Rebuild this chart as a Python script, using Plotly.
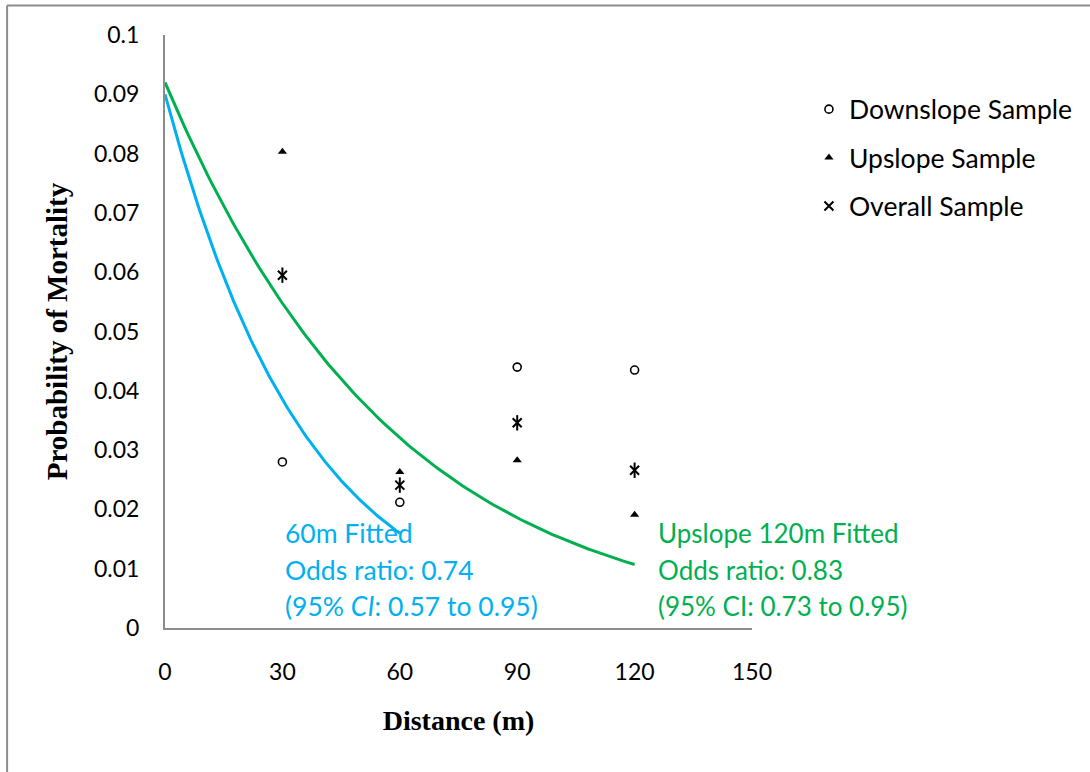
import numpy as np
import plotly.graph_objects as go

# Sample probabilities of mortality by distance from the edge
distance = [30, 60, 90, 120]
downslope = [0.0280, 0.0212, 0.0440, 0.0435]
upslope = [0.0803, 0.0263, 0.0283, 0.0191]
overall = [0.0595, 0.0241, 0.0346, 0.0266]

# Fitted logistic models: probability at 0 m and odds ratio per 10 m
fit60_p0, fit60_or, fit60_max = 0.090, 0.74, 60
fitup_p0, fitup_or, fitup_max = 0.092, 0.83, 120

x_ticks = [0, 30, 60, 90, 120, 150]
y_ticks = [0, 0.01, 0.02, 0.03, 0.04, 0.05, 0.06, 0.07, 0.08, 0.09, 0.1]
y_ticktext = ["0", "0.01", "0.02", "0.03", "0.04", "0.05", "0.06", "0.07", "0.08", "0.09", "0.1"]

BLUE = "#00B0F0"
GREEN = "#00B050"
SANS = "Lato"
SERIF = "Liberation Serif"


def fitted_curve(p0, odds_ratio, xmax):
    d = np.linspace(0, xmax, 121)
    odds = p0 / (1 - p0) * odds_ratio ** (d / 10.0)
    return d, odds / (1 + odds)


fig = go.Figure()

d60, p60 = fitted_curve(fit60_p0, fit60_or, fit60_max)
dup, pup = fitted_curve(fitup_p0, fitup_or, fitup_max)
fig.add_trace(go.Scatter(x=d60, y=p60, mode="lines", line=dict(color=BLUE, width=3),
                         showlegend=False, hoverinfo="skip"))
fig.add_trace(go.Scatter(x=dup, y=pup, mode="lines", line=dict(color=GREEN, width=3),
                         showlegend=False, hoverinfo="skip"))

fig.add_trace(go.Scatter(
    x=distance, y=downslope, mode="markers", name="Downslope Sample", legendgroup="down",
    marker=dict(symbol="circle-open", size=8, color="black", line=dict(width=1.6, color="black"))))
fig.add_trace(go.Scatter(
    x=distance, y=upslope, mode="markers", name="Upslope Sample", legendgroup="up",
    marker=dict(symbol="triangle-up", size=8, color="black")))
fig.add_trace(go.Scatter(
    x=distance, y=overall, mode="markers", name="Overall Sample", legendgroup="all",
    marker=dict(symbol="x-thin-open", size=9, color="black", line=dict(width=2, color="black"))))
fig.add_trace(go.Scatter(
    x=distance, y=overall, mode="markers", name="Overall Sample", legendgroup="all",
    showlegend=False,
    marker=dict(symbol="line-ns-open", size=11, color="black", line=dict(width=2, color="black"))))

# Fitted-model labels
label_rows = [0.01603, 0.00983, 0.00373]
blue_lines = ["60m Fitted", "Odds ratio: 0.74", "(95% <i>CI</i>: 0.57 to 0.95)"]
green_lines = ["Upslope 120m Fitted", "Odds ratio: 0.83", "(95% CI: 0.73 to 0.95)"]
for yv, txt in zip(label_rows, blue_lines):
    fig.add_annotation(x=30.2, y=yv, xref="x", yref="y", text=txt, showarrow=False,
                       xanchor="left", yanchor="middle", font=dict(family=SANS, size=26.5, color=BLUE))
for yv, txt in zip(label_rows, green_lines):
    fig.add_annotation(x=125.5, y=yv, xref="x", yref="y", text=txt, showarrow=False,
                       xanchor="left", yanchor="middle", font=dict(family=SANS, size=26, color=GREEN))

# Outer chart frame (left and top edges)
fig.add_shape(type="line", xref="paper", yref="paper", x0=-0.269, x1=-0.269, y0=1.0497, y1=-0.26,
              line=dict(color="#8c8c8c", width=2))
fig.add_shape(type="line", xref="paper", yref="paper", x0=-0.269, x1=1.6, y0=1.0497, y1=1.0497,
              line=dict(color="#8c8c8c", width=2))

fig.update_layout(
    width=1090, height=772,
    margin=dict(l=165, r=334, t=35, b=144),
    paper_bgcolor="white", plot_bgcolor="white",
    font=dict(family=SANS, size=23, color="black"),
    legend=dict(x=1.097, y=0.915, xanchor="left", yanchor="top",
                font=dict(family=SANS, size=26.5, color="black"),
                tracegroupgap=11, itemsizing="trace", bgcolor="rgba(0,0,0,0)"),
    xaxis=dict(range=[0, 150], tickvals=x_ticks, showgrid=False, zeroline=False,
               showline=True, linecolor="#8c8c8c", linewidth=2, ticks="",
               ticklabelstandoff=22, tickfont=dict(family=SANS, size=23),
               title=dict(text="<b>Distance (m)</b>", font=dict(family=SERIF, size=28, color="black"), standoff=27)),
    yaxis=dict(range=[0, 0.1], tickvals=y_ticks, ticktext=y_ticktext, showgrid=False, zeroline=False,
               showline=True, linecolor="#8c8c8c", linewidth=2, ticks="",
               ticklabelstandoff=19, tickfont=dict(family=SANS, size=23),
               title=dict(text="<b>Probability of Mortality</b>", font=dict(family=SERIF, size=29, color="black"), standoff=18)),
)

fig.write_html("out.html")
